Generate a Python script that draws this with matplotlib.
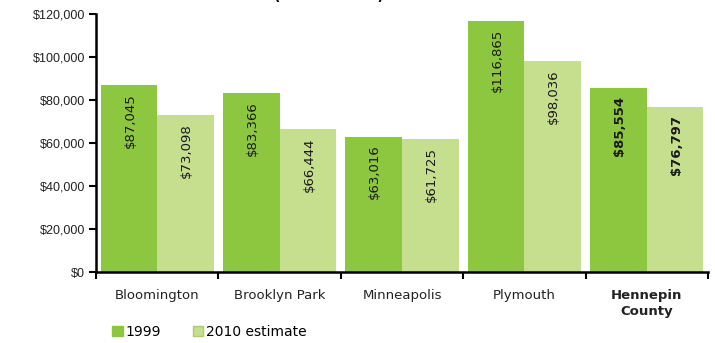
import matplotlib
matplotlib.use("Agg")
from matplotlib import pyplot as plt
from matplotlib.patches import Patch
import numpy as np

cities = ['Bloomington', 'Brooklyn Park', 'Minneapolis', 'Plymouth', 'Hennepin\nCounty']
income_1999 = [87045, 83366, 63016, 116865, 85554]
income_2010 = [73098, 66444, 61725, 98036, 76797]
series_names = ['1999', '2010 estimate']
yticks = [0, 20000, 40000, 60000, 80000, 100000, 120000]

dark_green = '#8DC63F'
light_green = '#C6DF8F'

fig = plt.figure(figsize=(7.15, 3.43), dpi=100)
ax = fig.add_axes([96/715, 1-272/343, (708-96)/715, (272-14)/343])

x = np.arange(len(cities))
w = 0.4625
b1 = ax.bar(x - w/2, income_1999, w, color=dark_green)
b2 = ax.bar(x + w/2, income_2010, w, color=light_green)

# value labels, rotated, just under the top of each bar
for bars, vals in ((b1, income_1999), (b2, income_2010)):
    for i, (bar, v) in enumerate(zip(bars, vals)):
        ax.annotate('${:,}'.format(v), (bar.get_x() + bar.get_width()/2, v),
                    xytext=(1, -8), textcoords='offset pixels',
                    rotation=90, ha='center', va='top', fontsize=9.5,
                    fontweight='bold' if i == len(cities)-1 else 'normal',
                    color='#1a1a1a')

ax.set_xlim(-0.5, len(cities)-0.5)
ax.set_ylim(0, 120000)
ax.set_yticks(yticks)
ax.set_yticklabels(['${:,}'.format(t) for t in yticks], family='Liberation Sans', fontsize=9)

# group separators as major ticks, city names as minor ticks
ax.set_xticks(np.arange(len(cities)+1) - 0.5)
ax.set_xticklabels([])
ax.set_xticks(x, minor=True)
ax.set_xticklabels(cities, minor=True, fontsize=9.5, color='#222222')
ax.tick_params(axis='x', which='minor', length=0, pad=12)
ax.tick_params(axis='x', which='major', length=5, width=1.5, color='black')
ax.tick_params(axis='y', length=5, width=1.5, pad=3, labelcolor='#222222')
for lbl in ax.get_xticklabels(minor=True):
    if lbl.get_text().startswith('Hennepin'):
        lbl.set_fontweight('bold')
        lbl.set_linespacing(1.35)
        lbl.set_va('top')

for s in ('top', 'right'):
    ax.spines[s].set_visible(False)
for s in ('left', 'bottom'):
    ax.spines[s].set_linewidth(1.8)

fig.text(0.46, 1.0 + 0.5/343, '(2010 dollars)', ha='center', va='baseline',
         fontsize=10, fontweight='bold')

handles = [Patch(facecolor=dark_green, edgecolor=dark_green),
           Patch(facecolor=light_green, edgecolor='#A9CF6A')]
fig.legend(handles, series_names, loc='lower left', bbox_to_anchor=(104/715, -4/343),
           ncol=2, frameon=False, fontsize=10, handlelength=0.75, handleheight=0.75,
           handletextpad=0.2, columnspacing=2.3, borderaxespad=0.2)

fig.savefig('out.png', dpi=100)
